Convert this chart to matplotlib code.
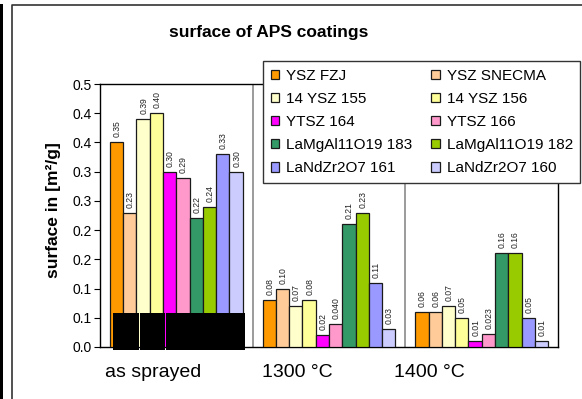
import numpy as np
import matplotlib.pyplot as plt
from matplotlib.patches import Rectangle
from matplotlib.lines import Line2D
from matplotlib.transforms import ScaledTranslation

plt.rcParams['font.family'] = ['Liberation Sans', 'DejaVu Sans']

# ---- data --------------------------------------------------------------
conditions = ["as sprayed", "1300 °C", "1400 °C"]
coatings = ["YSZ FZJ", "YSZ SNECMA", "14 YSZ 155", "14 YSZ 156",
            "YTSZ 164", "YTSZ 166", "LaMgAl11O19 183", "LaMgAl11O19 182",
            "LaNdZr2O7 161", "LaNdZr2O7 160"]

# specific surface per coating, as printed on the bars [m²/g]
surface_sprayed = ["0.35", "0.23", "0.39", "0.40", "0.30", "0.29", "0.22", "0.24", "0.33", "0.30"]
surface_1300 = ["0.08", "0.10", "0.07", "0.08", "0.02", "0.040", "0.21", "0.23", "0.11", "0.03"]
surface_1400 = ["0.06", "0.06", "0.07", "0.05", "0.01", "0.023", "0.16", "0.16", "0.05", "0.01"]

y_ticks = [0.0, 0.05, 0.10, 0.15, 0.20, 0.25, 0.30, 0.35, 0.40, 0.45]
y_tick_labels = ["0.0", "0.1", "0.1", "0.2", "0.2", "0.3", "0.3", "0.4", "0.4", "0.5"]

# ---- style -------------------------------------------------------------
colors = ["#FF9900", "#FFCC99", "#FFFFCC", "#FFFF99", "#FF00FF",
          "#FF99CC", "#339966", "#99CC00", "#9999FF", "#CCCCFF"]
bar_w = 0.087
label_shift_px = [-23.5, -31.5, -52]   # category labels sit left of centre
shade_groups = [(0, 1), (2, 3), (4, 9)]  # blacked-out stretches on the first group

fig = plt.figure(figsize=(5.82, 3.99), dpi=100)
ax = fig.add_axes([100 / 582, 1 - 347 / 399, 458 / 582, 263 / 399])

groups = [surface_sprayed, surface_1300, surface_1400]
x = np.arange(len(conditions))
offsets = (np.arange(len(coatings)) - (len(coatings) - 1) / 2) * bar_w

handles = []
for j, name in enumerate(coatings):
    texts = [g[j] for g in groups]
    vals = [float(t) for t in texts]
    bars = ax.bar(x + offsets[j], vals, width=bar_w, color=colors[j],
                  edgecolor="#1a1a1a", linewidth=0.9, label=name, zorder=3)
    handles.append(bars)
    for b, t in zip(bars, texts):
        ax.annotate(t, (b.get_x() + b.get_width() / 2 + 0.004, b.get_height()),
                    xytext=(0, 3.6), textcoords="offset points",
                    rotation=90, ha="center", va="bottom", fontsize=6.2,
                    color="#222222", zorder=4)

# black patches over the base of the first group
for j0, j1 in shade_groups:
    left = x[0] + offsets[j0] - bar_w / 2 + 0.022
    right = x[0] + offsets[j1] + bar_w / 2 + 0.018
    ax.add_patch(Rectangle((left, -0.005), right - left - 0.004, 0.063,
                           facecolor="black", edgecolor="none",
                           zorder=6, clip_on=False))

# ---- axes --------------------------------------------------------------
ax.set_xlim(-0.5, 2.5)
ax.set_ylim(0, 0.45)
for b in [0.5, 1.5]:
    ax.axvline(b, color="#808080", linewidth=1.1, zorder=1)

ax.set_yticks(y_ticks)
ax.set_yticklabels(y_tick_labels, fontsize=10)
ax.tick_params(axis="y", direction="out", length=4, width=0.8, pad=2)

ax.set_xticks(x)
ax.set_xticklabels(conditions, fontsize=14)
ax.tick_params(axis="x", length=0, pad=12)
for lbl, dx in zip(ax.get_xticklabels(), label_shift_px):
    lbl.set_transform(lbl.get_transform() + ScaledTranslation(dx / 100, 0, fig.dpi_scale_trans))

for s in ax.spines.values():
    s.set_color("black")
    s.set_linewidth(1.0)

# legend filled row by row
order = [0, 2, 4, 6, 8, 1, 3, 5, 7, 9]
leg = ax.legend([handles[i] for i in order], [coatings[i] for i in order],
                ncol=2, loc="upper left",
                bbox_to_anchor=(263 / 582, 1 - 61 / 399),
                bbox_transform=fig.transFigure, borderaxespad=0,
                fancybox=False, framealpha=1, edgecolor="#333333",
                fontsize=11, handlelength=0.55, handleheight=0.55,
                handletextpad=0.45, columnspacing=1.25,
                labelspacing=0.6, borderpad=0.5)
leg.get_frame().set_linewidth(1.0)
leg.set_zorder(10)

# ---- titles ------------------------------------------------------------
fig.text(269 / 582, 1 - 32 / 399, "surface of APS coatings",
         ha="center", va="center", fontsize=12.5, fontweight="bold")
fig.text(54 / 582, 1 - 210 / 399, "surface in [m²/g]", rotation=90,
         ha="center", va="center", fontsize=12.5, fontweight="bold")

# chart frame
fig.add_artist(Line2D([11.5 / 582, 11.5 / 582, 1.0], [0, 1 - 5 / 399, 1 - 5 / 399],
                      transform=fig.transFigure, color="#333333", linewidth=1.2))
fig.add_artist(Rectangle((0, 0), 3 / 582, 1 - 4 / 399, transform=fig.transFigure,
                         facecolor="black", edgecolor="none"))

fig.savefig("out.png", dpi=100)
